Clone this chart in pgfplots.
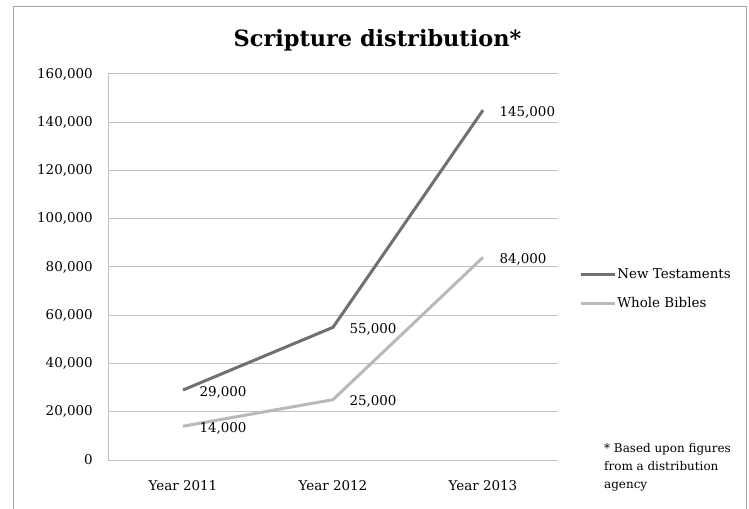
\documentclass[border=0pt]{standalone}
\usepackage{pgfplots}
\pgfplotsset{compat=1.18}
\usepackage{fontspec}
\setmainfont{DejaVu Serif}
\definecolor{darkl}{RGB}{112,112,112}
\definecolor{lightl}{RGB}{185,185,185}
\definecolor{gridc}{RGB}{192,192,192}
\definecolor{framec}{RGB}{165,165,165}
\begin{document}
\begin{tikzpicture}
\useasboundingbox (-108bp,-49bp) rectangle (641bp,460bp);
\fill[white] (-108bp,-49bp) rectangle (641bp,460bp);
\draw[framec, line width=1bp] (-94bp,-60bp) -- (-94bp,453bp) -- (638bp,453bp) -- (638bp,-60bp);
\begin{axis}[
  at={(0,0)}, anchor=south west,
  scale only axis, width=450bp, height=386bp,
  xmin=-0.5, xmax=2.5, ymin=0, ymax=160000,
  xtick={0,1,2}, xticklabels={Year 2011,Year 2012,Year 2013},
  ytick={0,20000,...,160000},
  scaled y ticks=false,
  /pgf/number format/.cd, fixed, 1000 sep={,}, assume math mode=true, /pgfplots/.cd,
  axis x line*=bottom, axis y line*=left,
  axis line style={gridc, line width=1bp, -},
  ymajorgrids, grid style={gridc, line width=1bp},
  major tick length=0pt,
  tick label style={font=\fontsize{13.5}{16}\selectfont, inner sep=0pt},
  yticklabel style={xshift=-15bp},
  xticklabel style={yshift=-20bp},
  clip=false,
  legend cell align=left,
  legend style={at={(axis description cs:1.047,0.443)}, anchor=west, draw=none, fill=none,
    font=\fontsize{13.5}{16}\selectfont, inner sep=0pt, row sep=15bp,
    nodes={inner sep=1bp}},
  legend image code/.code={\draw[#1] (0bp,0bp) -- (34bp,0bp);},
  nodes near coords,
  nodes near coords style={anchor=west, inner sep=0pt, xshift=15bp, yshift=-2bp,
    font=\fontsize{13.5}{16}\selectfont, text=black},
]
\addplot[darkl, line width=3bp] coordinates {(0,29000) (1,55000) (2,145000)};
\addlegendentry{New Testaments}
\addplot[lightl, line width=3bp] coordinates {(0,14000) (1,25000) (2,84000)};
\addlegendentry{Whole Bibles}
\end{axis}
\node[font=\fontsize{22.5}{26}\selectfont\bfseries] at (269.5bp,420bp) {Scripture distribution*};
\node[anchor=north west, align=left, inner sep=0pt, font=\fontsize{12}{18}\selectfont] at (496bp,17bp)
  {* Based upon figures\\from a distribution\\agency};
\end{tikzpicture}
\end{document}
